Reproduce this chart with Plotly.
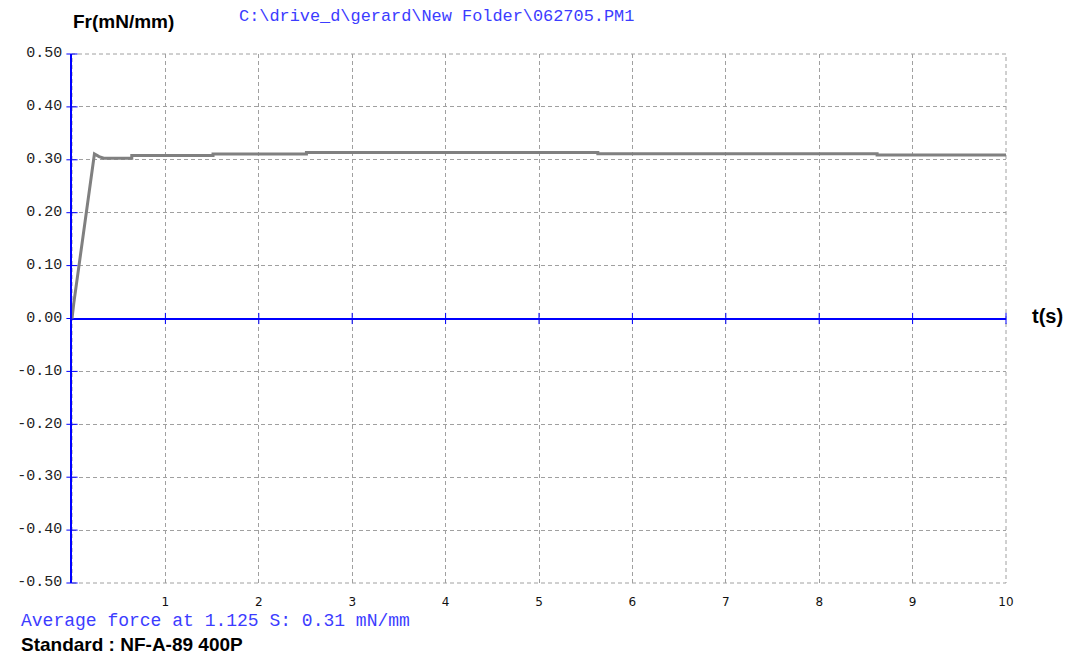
import plotly.graph_objects as go

# Force trace: time (s) vs. force per unit width (mN/mm)
time_s = [0.0, 0.02, 0.24, 0.29, 0.34, 0.64, 0.64, 1.51, 1.51, 2.51, 2.51,
          5.63, 5.63, 8.62, 8.62, 10.0]
force = [0.0, 0.03, 0.311, 0.306, 0.303, 0.303, 0.308, 0.308, 0.311, 0.311,
         0.314, 0.314, 0.3115, 0.3115, 0.309, 0.309]

x_ticks = [1, 2, 3, 4, 5, 6, 7, 8, 9, 10]
x_tick_labels = ["1", "2", "3", "4", "5", "6", "7", "8", "9", "10"]
y_ticks = [-0.5, -0.4, -0.3, -0.2, -0.1, 0.0, 0.1, 0.2, 0.3, 0.4, 0.5]
y_tick_labels = ["-0.50", "-0.40", "-0.30", "-0.20", "-0.10", "0.00",
                 "0.10", "0.20", "0.30", "0.40", "0.50"]

file_path = "C:\\drive_d\\gerard\\New Folder\\062705.PM1"
summary = "Average force at 1.125 S: 0.31 mN/mm"
standard = "Standard : NF-A-89 400P"

BLUE = "#0000ff"
TEXT_BLUE = "#3c3cff"
GRID = "#a0a0a0"
MONO = "Liberation Mono, Courier New, monospace"
SANS = "Liberation Sans, Arial, sans-serif"

fig = go.Figure()

# small tick marks crossing the zero line and the left axis
fig.add_trace(go.Scatter(
    x=x_ticks, y=[0] * len(x_ticks), mode="markers",
    marker=dict(symbol="line-ns", size=8, line=dict(color=BLUE, width=1)),
    hoverinfo="skip", showlegend=False, cliponaxis=False))
fig.add_trace(go.Scatter(
    x=[0] * len(y_ticks), y=y_ticks, mode="markers",
    marker=dict(symbol="line-ew", size=8, line=dict(color=BLUE, width=1)),
    hoverinfo="skip", showlegend=False, cliponaxis=False))

fig.add_trace(go.Scatter(
    x=time_s, y=force, mode="lines",
    line=dict(color="#808080", width=3),
    showlegend=False, cliponaxis=False))

fig.update_layout(
    width=1066, height=656,
    margin=dict(l=72, r=60, t=54, b=73),
    paper_bgcolor="white", plot_bgcolor="white",
    showlegend=False,
    xaxis=dict(
        range=[0, 10], tickvals=x_ticks, ticktext=x_tick_labels,
        showgrid=True, gridcolor=GRID, gridwidth=1, griddash="4px,3px",
        zeroline=False, showline=False,
        ticks="outside", ticklen=8, tickcolor="rgba(0,0,0,0)",
        tickfont=dict(family="DejaVu Sans, Verdana, sans-serif", size=12, color="#111"),
    ),
    yaxis=dict(
        range=[-0.5, 0.5], tickvals=y_ticks, ticktext=y_tick_labels,
        showgrid=True, gridcolor=GRID, gridwidth=1, griddash="4px,3px",
        zeroline=True, zerolinecolor=BLUE, zerolinewidth=1.5,
        showline=True, linecolor=BLUE, linewidth=1.5,
        ticks="", ticklabelstandoff=5, ticklabelshift=-2,
        tickfont=dict(family=MONO, size=15, color="#222"),
    ),
    shapes=[dict(type="rect", xref="paper", yref="paper", x0=0, x1=1, y0=0, y1=1,
                 line=dict(color=GRID, width=1, dash="4px,3px"), layer="below")],
    annotations=[
        dict(text="Fr(mN/mm)", xref="paper", yref="paper", x=-0.0015, y=1.0605,
             xanchor="left", yanchor="middle", showarrow=False,
             font=dict(family=SANS, size=19, color="black", weight="bold")),
        dict(text=file_path, xref="paper", yref="paper", x=0.177, y=1.071,
             xanchor="left", yanchor="middle", showarrow=False,
             font=dict(family=MONO, size=16.9, color=TEXT_BLUE)),
        dict(text="t(s)", xref="paper", yref="y", x=1.0255, y=0.004,
             xanchor="left", yanchor="middle", showarrow=False,
             font=dict(family=SANS, size=20, color="black", weight="bold")),
        dict(text=summary, xref="paper", yref="paper", x=-0.057, y=-0.0718,
             xanchor="left", yanchor="middle", showarrow=False,
             font=dict(family=MONO, size=18, color=TEXT_BLUE)),
        dict(text=standard, xref="paper", yref="paper", x=-0.057, y=-0.1172,
             xanchor="left", yanchor="middle", showarrow=False,
             font=dict(family=SANS, size=19, color="black", weight="bold")),
    ],
)

fig.write_html("out.html")
